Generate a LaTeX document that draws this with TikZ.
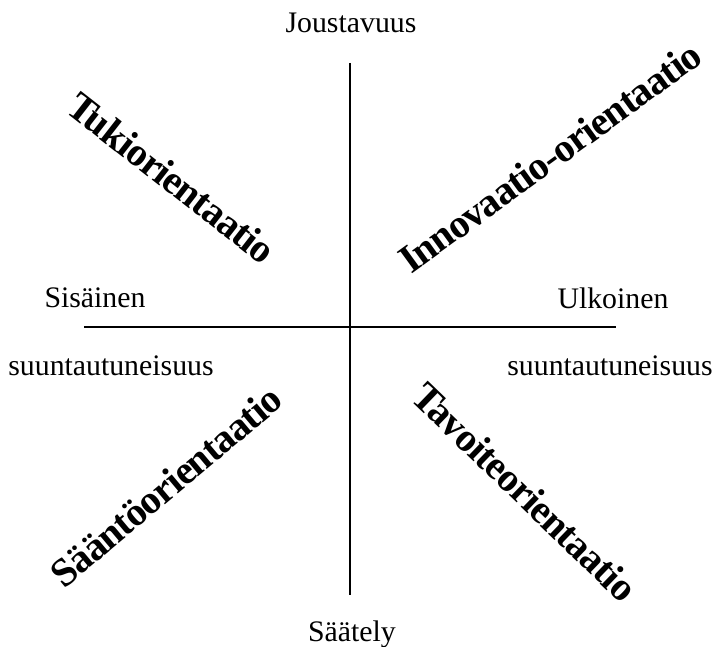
\documentclass[tikz,border=0pt]{standalone}
\usepackage{fontspec}
\setmainfont{Liberation Serif}
\tikzset{
  axisline/.style = {black, line width=0.6pt},
  axlab/.style    = {inner sep=0pt, font=\fontsize{14.9}{17}\selectfont},
  orlab/.style    = {inner sep=0pt,
                     font=\fontsize{20}{23}\selectfont\bfseries\addfontfeature{LetterSpace=-2.5}}
}

\begin{document}
\begin{tikzpicture}[x=0.5pt, y=-0.5pt]
  \useasboundingbox (0,0) rectangle (714,647);
  % axes
  \coordinate (ytop) at (350,63);
  \coordinate (ybot) at (350,595);
  \coordinate (xlft) at (84,327);
  \coordinate (xrgt) at (616,327);
  \draw[axisline] (ytop) -- (ybot);
  \draw[axisline] (xlft) -- (xrgt);
  % axis labels
  \node[axlab,anchor=base] (joust) at (351,33) {Joustavuus};
  \node[axlab,anchor=base] (saat)  at (352,641) {Säätely};
  \node[axlab] (sis)   at (95,298)  {Sisäinen};
  \node[axlab] (ulk)   at (613,298) {Ulkoinen};
  \node[axlab] (suunl) at (111,366) {suuntautuneisuus};
  \node[axlab] (suunr) at (610,366) {suuntautuneisuus};
  % quadrants
  \node[orlab,rotate=-38] (tuki)  at (172,178) {Tukiorientaatio};
  \node[orlab,rotate=36]  (innov) at (550,157) {Innovaatio-orientaatio};
  \node[orlab,rotate=40]  (saant) at (166,486) {Sääntöorientaatio};
  \node[orlab,rotate=-44] (tavo)  at (525,492) {Tavoiteorientaatio};
\end{tikzpicture}
\end{document}
